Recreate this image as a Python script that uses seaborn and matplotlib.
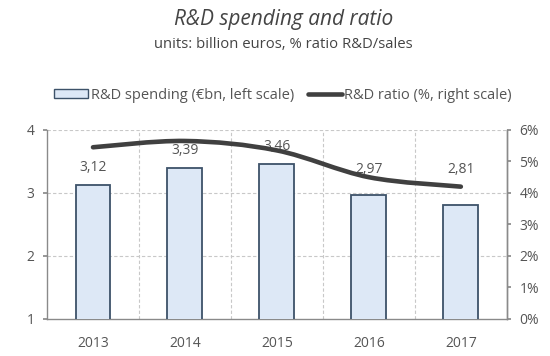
import matplotlib
matplotlib.use("Agg")
import matplotlib.pyplot as plt
from matplotlib.path import Path
from matplotlib.patches import PathPatch, Patch
from matplotlib.lines import Line2D
from matplotlib.ticker import FuncFormatter
import numpy as np
import pandas as pd
import seaborn as sns

years = ["2013", "2014", "2015", "2016", "2017"]
spending = [3.12, 3.39, 3.46, 2.97, 2.81]
ratio = [5.45, 5.65, 5.35, 4.5, 4.2]

title = "R&D spending and ratio"
subtitle = "units: billion euros, % ratio R&D/sales"
bar_label = "R&D spending (€bn, left scale)"
line_label = "R&D ratio (%, right scale)"

sns.set_theme(style="white")
plt.rcParams["font.family"] = ["Open Sans", "DejaVu Sans"]

BAR_FILL = "#dde8f6"
BAR_EDGE = "#3d5269"
LINE_COL = "#404040"
TXT = "#555555"
GRID = "#c8c8c8"
SPINE = "#8a8a8a"
FS = 10

df = pd.DataFrame({"year": years, "spending": spending, "ratio": ratio})

fig = plt.figure(figsize=(5.5, 3.56), dpi=100)
ax = fig.add_axes([0.0855, 0.104, 0.836, 0.531])

sns.barplot(data=df, x="year", y="spending", ax=ax, color=BAR_FILL,
            edgecolor=BAR_EDGE, linewidth=1.3, width=0.38, saturation=1,
            zorder=3)
ax.set_ylim(1, 4)
ax.set_xlim(-0.5, len(years) - 0.5)
ax.set_yticks([1, 2, 3, 4])
ax.set_xlabel("")
ax.set_ylabel("")

# value labels above bars (comma decimals), kept clear of the ratio line
label_floor = 3.38
for i, v in enumerate(spending):
    ax.text(i, max(v + 0.28, label_floor), f"{v:.2f}".replace(".", ","),
            ha="center", va="center", fontsize=FS, color=TXT, zorder=5)

# dashed grid: horizontal at y ticks, vertical between categories
for y in [2, 3, 4]:
    ax.axhline(y, color=GRID, lw=0.8, ls=(0, (3, 2)), zorder=1)
for xv in np.arange(0.5, len(years) - 0.5, 1.0):
    ax.axvline(xv, color=GRID, lw=0.8, ls=(0, (3, 2)), zorder=1)

ax.spines["top"].set_visible(False)
for side in ["left", "bottom", "right"]:
    ax.spines[side].set_color(SPINE)
    ax.spines[side].set_linewidth(1.0)
ax.tick_params(axis="y", which="both", left=True, length=3, color=SPINE,
               labelsize=FS, labelcolor=TXT, pad=6)
ax.tick_params(axis="x", bottom=False, labelsize=FS, labelcolor=TXT, pad=6)

# right axis: ratio line, smoothed with Catmull-Rom style Bezier segments
ax2 = ax.twinx()
ax2.set_ylim(0, 6)
ax2.set_yticks(range(0, 7))
ax2.yaxis.set_major_formatter(FuncFormatter(lambda v, p: f"{int(v)}%"))
ax2.tick_params(axis="y", right=True, length=3, color=SPINE, labelsize=FS,
                labelcolor=TXT, pad=6)
for side in ["top", "left", "bottom"]:
    ax2.spines[side].set_visible(False)
ax2.spines["right"].set_color(SPINE)
ax2.spines["right"].set_linewidth(1.0)

pts = np.column_stack([np.arange(len(ratio), dtype=float), ratio])
verts = [tuple(pts[0])]
codes = [Path.MOVETO]
n = len(pts)
for i in range(n - 1):
    p_prev = pts[max(i - 1, 0)]
    p0 = pts[i]
    p1 = pts[i + 1]
    p_next = pts[min(i + 2, n - 1)]
    c1 = p0 + (p1 - p_prev) / 6.0
    c2 = p1 - (p_next - p0) / 6.0
    verts += [tuple(c1), tuple(c2), tuple(p1)]
    codes += [Path.CURVE4] * 3
ax2.add_patch(PathPatch(Path(verts, codes), fill=False, edgecolor=LINE_COL,
                        lw=3.3, capstyle="round", zorder=4))

fig.text(0.516, 0.944, title, ha="center", va="center", fontsize=15,
         style="italic", color="#444444")
fig.text(0.515, 0.874, subtitle, ha="center", va="center", fontsize=10.7,
         color="#444444")

handles = [Patch(facecolor=BAR_FILL, edgecolor=BAR_EDGE, linewidth=1.0),
           Line2D([0], [0], color=LINE_COL, lw=3.3)]
fig.legend(handles, [bar_label, line_label], loc="center",
           bbox_to_anchor=(0.515, 0.733), ncol=2, frameon=False,
           fontsize=10.5, labelcolor=TXT, handlelength=2.3, handleheight=0.55,
           handletextpad=0.2, columnspacing=0.95)

fig.savefig("out.png", dpi=100)
